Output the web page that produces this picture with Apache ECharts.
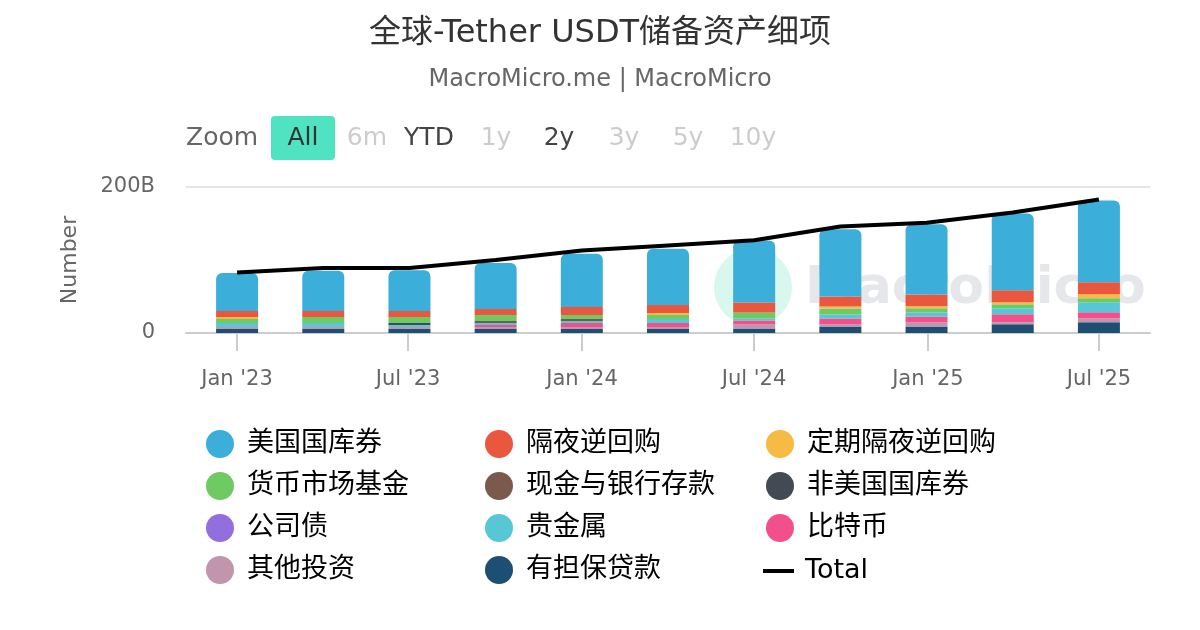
<!DOCTYPE html>
<html>
<head>
<meta charset="utf-8">
<script src="https://cdn.jsdelivr.net/npm/echarts@6/dist/echarts.min.js"></script>
<style>
html,body{margin:0;padding:0;background:#fff;}
#chart{width:1200px;height:630px;}
</style>
</head>
<body>
<div id="chart"></div>
<script>
// ---- data (billions USD), quarter-end reporting dates ----
const dates = ['2022-12-31','2023-03-31','2023-06-30','2023-09-30','2023-12-31','2024-03-31','2024-06-30','2024-09-30','2024-12-31','2025-03-31','2025-06-30'];
const usTreasury      = [52, 55, 56, 63, 73, 77, 85, 92, 96, 105, 112];   // 美国国库券
const overnightRepo   = [8.2, 8.2, 8.2, 8.2, 11, 11, 13.7, 13.7, 16.4, 16.4, 16.4]; // 隔夜逆回购
const termRepo        = [2.7, 0, 0, 0, 0, 2.7, 0, 2.7, 2.7, 2.7, 5.5];      // 定期隔夜逆回购
const moneyMarket     = [5.5, 8.2, 8.2, 8.2, 5.5, 5.5, 8.2, 8.2, 5.5, 5.5, 5.5]; // 货币市场基金
const cashDeposits    = [0, 0, 0, 2.7, 2.7, 0, 0, 0, 0, 0, 0];              // 现金与银行存款
const nonUsTreasury   = [0, 0, 2.7, 0, 0, 0, 0, 0, 0, 0, 0];                // 非美国国库券
const corpBonds       = [0.1, 0.1, 0.1, 0.1, 0.1, 0.1, 0.1, 0.1, 0.1, 0.1, 0.1]; // 公司债
const preciousMetals  = [5.5, 5.5, 2.7, 2.7, 2.7, 5.5, 2.7, 5.5, 5.5, 8.2, 13.7]; // 贵金属
const bitcoin         = [0, 0, 0, 2.7, 5.5, 5.5, 5.5, 8.2, 8.2, 11, 8.2];   // 比特币
const otherInvest     = [2.7, 2.7, 2.7, 2.7, 2.7, 2.7, 5.5, 2.7, 5.5, 2.7, 5.5]; // 其他投资
const securedLoans    = [5.5, 5.5, 5.5, 5.5, 5.5, 5.5, 6, 9, 9, 12, 14.6]; // 有担保贷款
const total           = [83, 89, 89, 100, 113, 120, 127, 146, 151, 165, 183]; // Total

const tickDates  = ['2023-01-01','2023-07-01','2024-01-01','2024-07-01','2025-01-01','2025-07-01'];
const tickLabels = ["Jan '23","Jul '23","Jan '24","Jul '24","Jan '25","Jul '25"];
const yTickValues = [0, 200];
const yTickLabels = ['0', '200B'];

// ---- build ----
const FONT = "'DejaVu Sans', 'Noto Sans CJK SC', sans-serif";
const ts = d => Date.parse(d + 'T00:00:00Z');
const tickTs = tickDates.map(ts);

const stackDefs = [ // bottom to top
  ['有担保贷款', securedLoans, '#1D4E73'],
  ['其他投资', otherInvest, '#C095AD'],
  ['比特币', bitcoin, '#F2508A'],
  ['贵金属', preciousMetals, '#57C6D5'],
  ['公司债', corpBonds, '#936FDD'],
  ['非美国国库券', nonUsTreasury, '#434A54'],
  ['现金与银行存款', cashDeposits, '#7B5A4D'],
  ['货币市场基金', moneyMarket, '#6FCA63'],
  ['定期隔夜逆回购', termRepo, '#F6BB42'],
  ['隔夜逆回购', overnightRepo, '#E9573F'],
  ['美国国库券', usTreasury, '#3BAEDA']
];

const series = stackDefs.map(([name, vals, color], k) => ({
  type: 'bar',
  name: name,
  stack: 'reserves',
  barWidth: 42,
  xAxisIndex: 1,
  yAxisIndex: 1,
  data: vals,
  itemStyle: { color: color, borderRadius: k === stackDefs.length - 1 ? [6, 6, 0, 0] : 0 },
  emphasis: { disabled: true }
}));
series.push({
  type: 'line',
  name: 'Total',
  xAxisIndex: 1,
  yAxisIndex: 1,
  data: total,
  symbol: 'none',
  lineStyle: { color: '#000', width: 4 },
  itemStyle: { color: '#000' },
  z: 10
});

const legendBase = {
  orient: 'vertical',
  itemWidth: 28,
  itemHeight: 28,
  itemGap: 14,
  icon: 'circle',
  selectedMode: false,
  textStyle: { fontFamily: FONT, fontSize: 27, lineHeight: 28, color: '#000', padding: [0, 0, 0, 8] }
};

const btn = (text, cx, color) => ({
  type: 'text', x: cx, y: 138,
  style: { text: text, fill: color, font: '25px ' + FONT, align: 'center', verticalAlign: 'middle' }
});

const option = {
  animation: false,
  backgroundColor: '#fff',
  title: {
    text: '全球-Tether USDT储备资产细项',
    subtext: 'MacroMicro.me | MacroMicro',
    left: 'center',
    top: 11,
    itemGap: 15,
    textStyle: { fontFamily: FONT, fontSize: 32, fontWeight: 'normal', color: '#333', lineHeight: 36 },
    subtextStyle: { fontFamily: FONT, fontSize: 24, color: '#666', lineHeight: 26 }
  },
  graphic: [
    { type: 'circle', shape: { cx: 753, cy: 287, r: 39 }, style: { fill: '#d8f7ef' }, z: -1 },
    { type: 'text', x: 805, y: 289, z: -1,
      style: { text: 'MacroMicro', fill: '#e5e7ea', font: 'bold 52px ' + FONT, verticalAlign: 'middle' } },
    { type: 'text', x: 186, y: 138, style: { text: 'Zoom', fill: '#666', font: '25px ' + FONT, verticalAlign: 'middle' } },
    { type: 'rect', shape: { x: 271, y: 116, width: 64, height: 44, r: 4 }, style: { fill: '#4FE3C1' } },
    btn('All', 303, '#333'),
    btn('6m', 367, '#ccc'),
    btn('YTD', 429, '#444'),
    btn('1y', 496, '#ccc'),
    btn('2y', 559, '#444'),
    btn('3y', 624, '#ccc'),
    btn('5y', 688, '#ccc'),
    btn('10y', 753, '#ccc')
  ],
  legend: [
    Object.assign({}, legendBase, { left: 201, top: 425, data: ['美国国库券', '货币市场基金', '公司债', '其他投资'] }),
    Object.assign({}, legendBase, { left: 480, top: 425, data: ['隔夜逆回购', '现金与银行存款', '贵金属', '有担保贷款'] }),
    Object.assign({}, legendBase, { left: 761, top: 425, data: ['定期隔夜逆回购', '非美国国库券', '比特币'] }),
    Object.assign({}, legendBase, { left: 758, top: 552, icon: 'rect', itemWidth: 31, itemHeight: 4,
      textStyle: Object.assign({}, legendBase.textStyle, { padding: [0, 0, 0, 6] }), data: ['Total'] })
  ],
  grid: [
    // axis frame (date scale for ticks/labels)
    { left: 186, right: 50, top: 187, bottom: 297 },
    // plotting band: one category per quarter, centred on the quarter-end dates
    { left: 194, right: 58, top: 187, bottom: 297 }
  ],
  xAxis: [
    {
      type: 'value',
      gridIndex: 0,
      min: ts('2022-11-08'),
      max: ts('2025-08-24'),
      axisLine: { show: true, onZero: false, lineStyle: { color: '#ccc', width: 2 } },
      axisTick: { show: true, customValues: tickTs, length: 18, lineStyle: { color: '#ccc', width: 2 } },
      axisLabel: {
        customValues: tickTs,
        margin: 36,
        fontFamily: FONT, fontSize: 21, color: '#666',
        formatter: v => { const i = tickTs.indexOf(+v); return i >= 0 ? tickLabels[i] : ''; }
      },
      splitLine: { show: false }
    },
    {
      type: 'category',
      gridIndex: 1,
      data: dates,
      boundaryGap: true,
      axisLine: { show: false },
      axisTick: { show: false },
      axisLabel: { show: false },
      splitLine: { show: false }
    }
  ],
  yAxis: [
    {
      type: 'value',
      gridIndex: 0,
      min: 0, max: 200, interval: 200,
      name: 'Number',
      nameLocation: 'middle',
      nameRotate: 90,
      nameGap: 105,
      nameTextStyle: { fontFamily: FONT, fontSize: 22, color: '#666' },
      axisLine: { show: false },
      axisTick: { show: false },
      axisLabel: {
        margin: 31, fontFamily: FONT, fontSize: 21, color: '#666',
        formatter: v => { const i = yTickValues.indexOf(v); return i >= 0 ? yTickLabels[i] : ''; }
      },
      splitLine: { lineStyle: { color: '#e6e6e6', width: 2 } }
    },
    {
      type: 'value',
      gridIndex: 1,
      min: 0, max: 200, interval: 200,
      axisLine: { show: false },
      axisTick: { show: false },
      axisLabel: { show: false },
      splitLine: { show: false }
    }
  ],
  series: series
};

const chart = echarts.init(document.getElementById('chart'), null, { renderer: 'canvas' });
chart.setOption(option);
</script>
</body>
</html>
